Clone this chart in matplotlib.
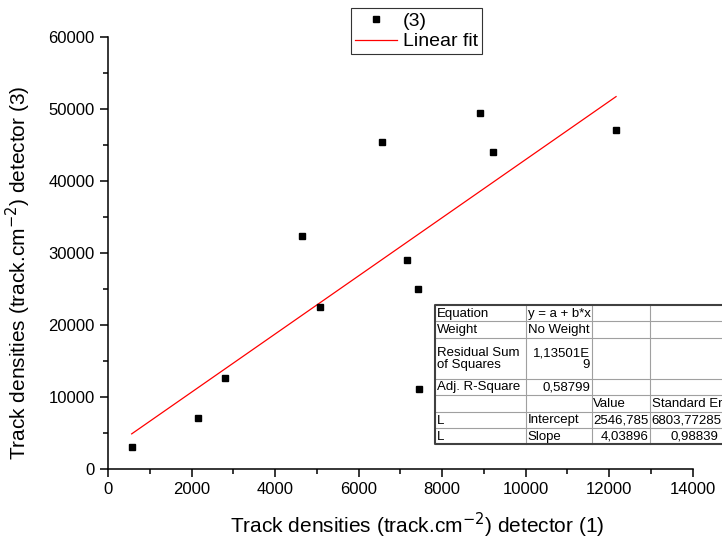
import matplotlib.pyplot as plt
import numpy as np
from matplotlib.ticker import MultipleLocator

plt.rcParams['font.family'] = ['Liberation Sans', 'DejaVu Sans']

# data
det1 = [567, 2148, 2794, 4646, 5077, 6561, 7160, 7423, 7455, 8908, 9219, 12165]
det3 = [3056, 7083, 12639, 32319, 22417, 45375, 28986, 24958, 11028, 49403, 43986, 47000]

# fit results as reported in the table
intercept = 2546.785
slope = 4.03896

table_rows = [
    ['Equation', 'y = a + b*x', '', ''],
    ['Weight', 'No Weight', '', ''],
    ['Residual Sum\nof Squares', '1,13501E\n9', '', ''],
    ['Adj. R-Square', '0,58799', '', ''],
    ['', '', 'Value', 'Standard Er'],
    ['L', 'Intercept', '2546,785', '6803,77285'],
    ['L', 'Slope', '4,03896', '0,98839'],
]
# alignment per cell: l = left, r = right
table_align = [
    ['l', 'l', 'l', 'l'],
    ['l', 'l', 'l', 'l'],
    ['l', 'r', 'l', 'l'],
    ['l', 'r', 'l', 'l'],
    ['l', 'l', 'l', 'l'],
    ['l', 'l', 'r', 'l'],
    ['l', 'l', 'r', 'r'],
]

W, H = 722, 542
fig = plt.figure(figsize=(W / 100, H / 100), dpi=100)
ax = fig.add_axes([108 / W, 1 - 468.7 / H, (692.7 - 108) / W, (468.7 - 36.7) / H])

x = np.array(det1)
ax.plot(x, det3, 's', color='black', markersize=4.5, label='(3)', zorder=3)
xf = np.array([x.min(), x.max()])
ax.plot(xf, intercept + slope * xf, color='red', lw=0.9, label='Linear fit')

ax.set_xlim(0, 14000)
ax.set_ylim(0, 60000)
ax.xaxis.set_major_locator(MultipleLocator(2000))
ax.xaxis.set_minor_locator(MultipleLocator(1000))
ax.yaxis.set_major_locator(MultipleLocator(10000))
ax.yaxis.set_minor_locator(MultipleLocator(5000))
for side in ['top', 'right']:
    ax.spines[side].set_visible(False)
for side in ['left', 'bottom']:
    ax.spines[side].set_linewidth(1.1)
ax.tick_params(which='major', length=6, width=1.1, labelsize=12, direction='out')
ax.tick_params(which='minor', length=3.5, width=1.1, direction='out')

ax.set_xlabel('Track densities (track.cm$^{-2}$) detector (1)', fontsize=15.0)
ax.set_ylabel('Track densities (track.cm$^{-2}$) detector (3)', fontsize=15.0)
ax.xaxis.set_label_coords(0.529, -0.098)
ax.yaxis.set_label_coords(-0.128, 0.454)

leg = ax.legend(loc='upper left', bbox_to_anchor=(350.7 / W, 1 - 8.3 / H),
                bbox_transform=fig.transFigure, fontsize=14, frameon=True,
                fancybox=False, edgecolor='#333333', framealpha=1,
                handlelength=2.2, handletextpad=0.3, borderpad=0.2,
                labelspacing=0.15, borderaxespad=0)
leg.get_frame().set_linewidth(0.8)

# fit table drawn in pixel coordinates
tx = fig.add_axes([430 / W, 1 - 446 / H, (W - 430) / W, (446 - 303) / H])
tx.set_xlim(430, W)
tx.set_ylim(446, 303)
tx.axis('off')
cols = [435, 526, 591.7, 650, 722]
rows = [305, 321, 338.3, 378.7, 395, 411.7, 428.3, 444]
for c in cols[1:-1]:
    tx.plot([c, c], [rows[0], rows[-1]], color='#a0a0a0', lw=0.8)
for r in rows[1:-1]:
    tx.plot([cols[0], cols[-1]], [r, r], color='#a0a0a0', lw=0.8)
tx.plot([cols[-1] + 5, cols[0], cols[0], cols[-1] + 5],
        [rows[0], rows[0], rows[-1], rows[-1]], color='#404040', lw=1.5)
for i, row in enumerate(table_rows):
    yc = (rows[i] + rows[i + 1]) / 2
    for j, txt in enumerate(row):
        if not txt:
            continue
        if table_align[i][j] == 'l':
            xp, ha = cols[j] + 1.5, 'left'
        else:
            xp, ha = min(cols[j + 1], 720) - 1.5, 'right'
        tx.text(xp, yc + 0.5, txt, ha=ha, va='center', fontsize=9.5,
                linespacing=1.0, multialignment=ha)

fig.savefig('out.png', dpi=100)
